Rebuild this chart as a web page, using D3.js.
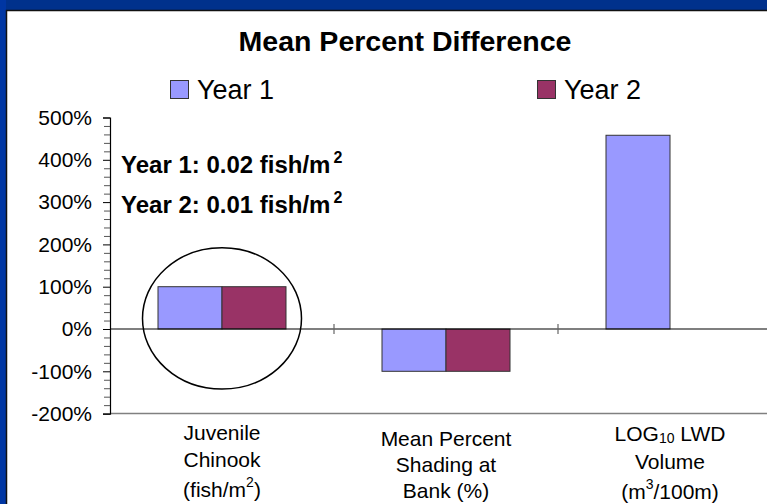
<!DOCTYPE html>
<html>
<head>
<meta charset="utf-8">
<script src="https://cdn.jsdelivr.net/npm/d3@7/dist/d3.min.js"></script>
<style>
  html, body { margin: 0; padding: 0; background: #00318c; }
  svg { display: block; font-family: Arial, "Liberation Sans", sans-serif; }
</style>
</head>
<body>
<svg id="chart" width="767" height="504"></svg>
<script>
// Mean percent difference between reference and treatment reaches
const categories = ["Juvenile Chinook", "Mean Percent Shading", "LOG10 LWD Volume"];
const seriesNames = ["Year 1", "Year 2"];
const year1Values = [100, -100, 458];
const year2Values = [100, -100, null];
const yTicks = [-200, -100, 0, 100, 200, 300, 400, 500];
const seriesColors = ["#9999ff", "#993366"];

const W = 767, H = 504;
const svg = d3.select("#chart");

// slide background and white panel
svg.append("rect").attr("x", 0).attr("y", 0).attr("width", W).attr("height", H).attr("fill", "#00318c");
svg.append("rect").attr("x", 0).attr("y", 0).attr("width", 6).attr("height", H).attr("fill", "#0036a3");
svg.append("rect").attr("x", 6.5).attr("y", 10.5).attr("width", W + 10).attr("height", H + 10)
  .attr("fill", "#ffffff").attr("stroke", "#111").attr("stroke-width", 1.5);

const plot = { left: 110, right: 782, top: 117.5, bottom: 413.6 };

const x = d3.scaleBand().domain(categories).range([plot.left, plot.right]).padding(0);
const xs = d3.scaleBand().domain(seriesNames).range([0, x.bandwidth()])
  .paddingInner(0).paddingOuter(0.75);
const y = d3.scaleLinear().domain([-200, 500]).range([plot.bottom, plot.top]);

// title
svg.append("text").attr("x", 405).attr("y", 51).attr("text-anchor", "middle")
  .attr("font-weight", "bold").attr("font-size", 27).attr("fill", "#000")
  .attr("textLength", 333).attr("lengthAdjust", "spacingAndGlyphs")
  .text("Mean Percent Difference");

// legend
const legendX = [170, 537];
seriesNames.forEach((name, i) => {
  svg.append("rect").attr("x", legendX[i] + 0.5).attr("y", 80.5).attr("width", 18).attr("height", 18)
    .attr("fill", seriesColors[i]).attr("stroke", "#333").attr("stroke-width", 1);
  svg.append("text").attr("x", legendX[i] + 27).attr("y", 98.5).attr("font-size", 27).attr("fill", "#000")
    .text(name);
});

// bottom plot edge
svg.append("line").attr("x1", plot.left).attr("x2", W).attr("y1", y(-200)).attr("y2", y(-200))
  .attr("stroke", "#808080").attr("stroke-width", 1.5);

// bars
const rows = categories.map((c, i) => ({ cat: c, vals: [year1Values[i], year2Values[i]] }));
const groups = svg.append("g").selectAll("g").data(rows).join("g")
  .attr("transform", d => `translate(${x(d.cat)},0)`);
groups.selectAll("rect")
  .data(d => d.vals.map((v, j) => ({ name: seriesNames[j], v, j })).filter(e => e.v !== null))
  .join("rect")
  .attr("x", d => xs(d.name))
  .attr("width", xs.bandwidth())
  .attr("y", d => y(Math.max(0, d.v)))
  .attr("height", d => Math.abs(y(d.v) - y(0)))
  .attr("fill", d => seriesColors[d.j])
  .attr("stroke", "#333").attr("stroke-width", 1);

// y axis with minor ticks
const yAxis = d3.axisLeft(y).tickValues(yTicks).tickSize(7).tickPadding(11)
  .tickFormat(d => d + "%");
const gy = svg.append("g").attr("transform", `translate(${plot.left},0)`).call(yAxis);
gy.select(".domain").attr("stroke", "#000").attr("stroke-width", 1.2);
gy.selectAll(".tick line").attr("stroke", "#000");
gy.selectAll(".tick text").attr("font-size", 21).attr("fill", "#000")
  .attr("font-family", "Arial, 'Liberation Sans', sans-serif");
const minor = d3.range(-200, 501, 20).filter(v => v % 100 !== 0);
svg.append("g").selectAll("line").data(minor).join("line")
  .attr("x1", plot.left - 6).attr("x2", plot.left).attr("y1", d => y(d) + 0.5).attr("y2", d => y(d) + 0.5)
  .attr("stroke", "#555").attr("stroke-width", 1);

// zero line with category dividers
svg.append("line").attr("x1", plot.left).attr("x2", W).attr("y1", y(0)).attr("y2", y(0))
  .attr("stroke", "#000").attr("stroke-width", 1.2);
svg.append("g").selectAll("line").data(categories.slice(1)).join("line")
  .attr("x1", d => x(d)).attr("x2", d => x(d)).attr("y1", y(0) - 5).attr("y2", y(0) + 5)
  .attr("stroke", "#666").attr("stroke-width", 1.2);

// category labels
const catLines = [
  [["Juvenile"], ["Chinook"], ["(fish/m", ["2", "sup"], ")"]],
  [["Mean Percent"], ["Shading at"], ["Bank (%)"]],
  [["LOG", ["10", "sub"], " LWD"], ["Volume"], ["(m", ["3", "sup"], "/100m)"]]
];
const catBaselines = [[440, 467, 497], [446, 472, 498], [441, 469, 499]];
categories.forEach((c, i) => {
  const cx = x(c) + x.bandwidth() / 2;
  catLines[i].forEach((parts, k) => {
    const t = svg.append("text").attr("x", cx).attr("y", catBaselines[i][k])
      .attr("text-anchor", "middle").attr("font-size", 21).attr("fill", "#000");
    parts.forEach(p => {
      if (typeof p === "string") {
        t.append("tspan").text(p);
      } else {
        t.append("tspan").text(p[0]).attr("font-size", 14)
          .attr("baseline-shift", p[1] === "sup" ? "70%" : "-15%");
      }
    });
  });
});

// density annotations
const notes = [["Year 1: 0.02 fish/m", 173], ["Year 2: 0.01 fish/m", 213]];
notes.forEach(([txt, by]) => {
  const t = svg.append("text").attr("x", 121).attr("y", by).attr("font-weight", "bold")
    .attr("font-size", 24).attr("fill", "#000");
  t.append("tspan").text(txt);
  t.append("tspan").text("2").attr("font-size", 16).attr("dx", 3).attr("baseline-shift", "65%");
});

// circle highlighting the chinook bars
svg.append("ellipse")
  .attr("cx", x(categories[0]) + x.bandwidth() / 2)
  .attr("cy", y(25))
  .attr("rx", 79.5)
  .attr("ry", y(0) - y(167))
  .attr("fill", "none").attr("stroke", "#000").attr("stroke-width", 1.5);
</script>
</body>
</html>
